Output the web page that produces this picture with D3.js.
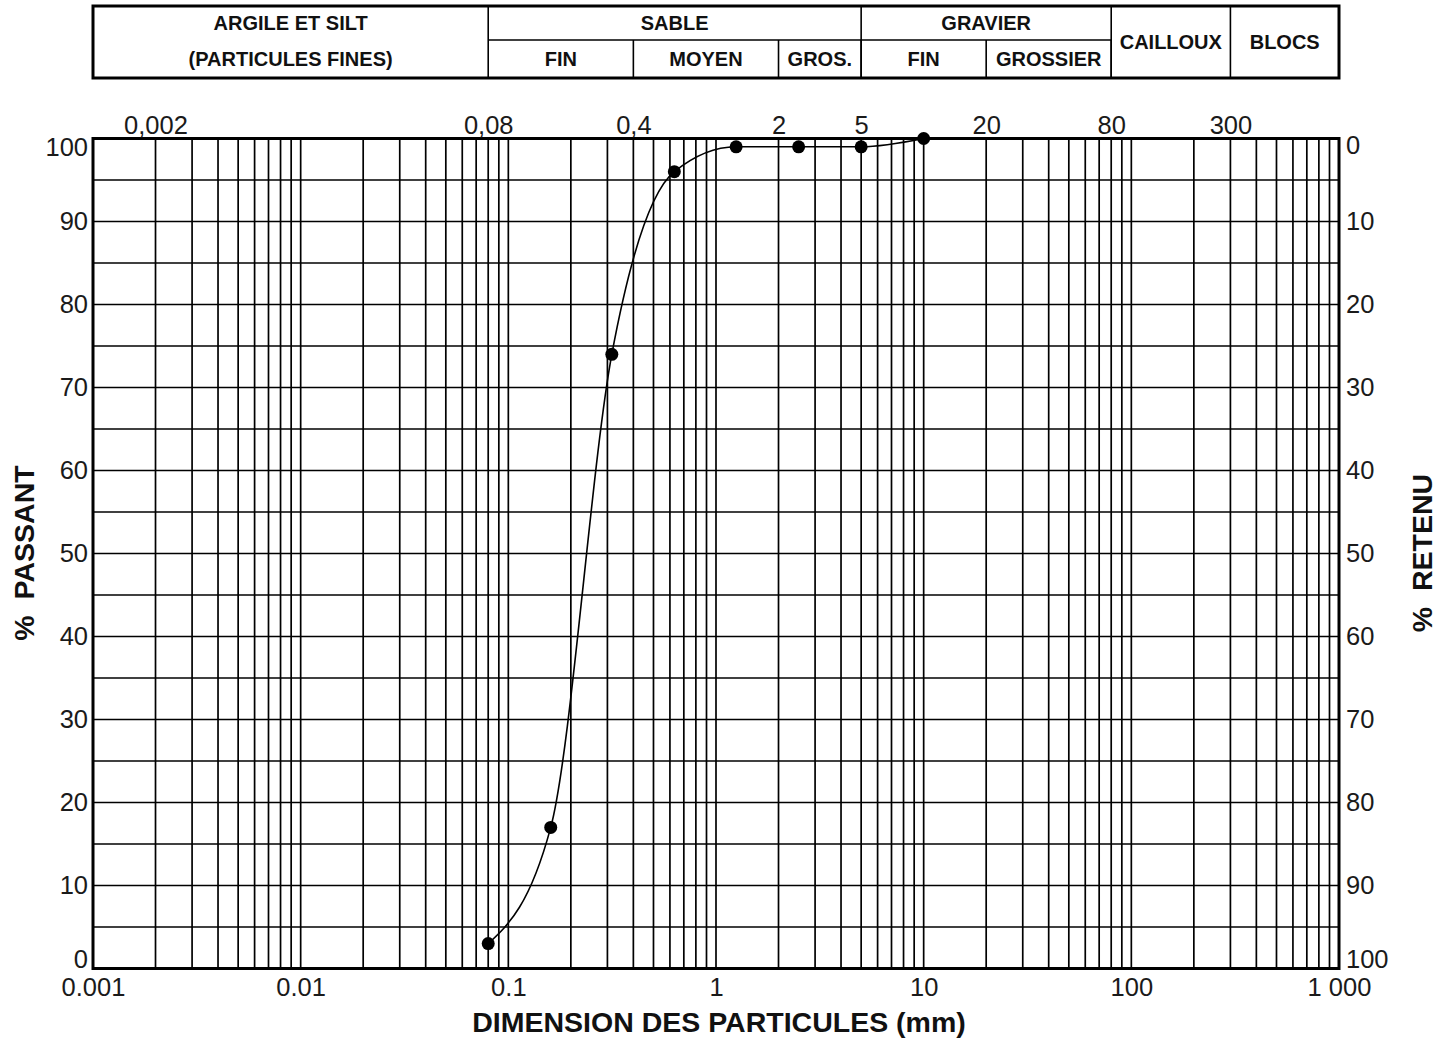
<!DOCTYPE html>
<html>
<head>
<meta charset="utf-8">
<title>Courbe granulométrique</title>
<script src="https://d3js.org/d3.v7.min.js"></script>
<style>
  body { margin: 0; background: #fff; }
  svg text { font-family: "Liberation Sans", Arial, sans-serif; fill: #1a1a1a; }
  .hdr { font-size: 20px; font-weight: bold; fill: #111; }
  .tick text { font-size: 25.5px; }
  .ttl { font-size: 28.5px; font-weight: bold; fill: #111; white-space: pre; }
</style>
</head>
<body>
<div id="chart"></div>
<script>
// sieve sizes (mm) and % passing
const sizes = [0.08, 0.16, 0.315, 0.63, 1.25, 2.5, 5, 10];
const passing = [3, 17, 74, 96, 99, 99, 99, 100];

const bottomTicks = [0.001, 0.01, 0.1, 1, 10, 100, 1000];
const bottomLabels = ["0.001", "0.01", "0.1", "1", "10", "100", "1 000"];
const topTicks = [0.002, 0.08, 0.4, 2, 5, 20, 80, 300];
const topLabels = ["0,002", "0,08", "0,4", "2", "5", "20", "80", "300"];
const pctTicks = [0, 10, 20, 30, 40, 50, 60, 70, 80, 90, 100];

// header table (classes granulométriques)
const fullCells = [
  {lines: ["ARGILE ET SILT", "(PARTICULES FINES)"], from: 0.001, to: 0.08},
  {lines: ["CAILLOUX"], from: 80, to: 300},
  {lines: ["BLOCS"], from: 300, to: 1000}
];
const groupCells = [
  {label: "SABLE", from: 0.08, to: 5},
  {label: "GRAVIER", from: 5, to: 80}
];
const subCells = [
  {label: "FIN", from: 0.08, to: 0.4},
  {label: "MOYEN", from: 0.4, to: 2},
  {label: "GROS.", from: 2, to: 5},
  {label: "FIN", from: 5, to: 20},
  {label: "GROSSIER", from: 20, to: 80}
];

const W = 1442, H = 1040;
const pLeft = 93, pRight = 1339, pTop = 138.5, pBottom = 968.5;
const hTop = 6, hMid = 40, hBot = 78;

const svg = d3.select("#chart").append("svg")
  .attr("width", W).attr("height", H);

const x = d3.scaleLog().domain([0.001, 1000]).range([pLeft, pRight]);
const y = d3.scaleLinear().domain([0, 100]).range([pBottom, pTop]);
const yr = d3.scaleLinear().domain([100, 0]).range([pBottom, pTop]);

// grid
const vLines = [];
for (let e = -3; e < 3; e++) {
  for (let n = 1; n <= 9; n++) {
    const v = n * Math.pow(10, e);
    if (v > 0.001) vLines.push(v);
  }
}
const hLines = d3.range(5, 100, 5);

svg.append("g").selectAll("line").data(vLines).join("line")
  .attr("x1", d => x(d)).attr("x2", d => x(d))
  .attr("y1", pTop).attr("y2", pBottom)
  .attr("stroke", "#000").attr("stroke-width", 1.7);
svg.append("g").selectAll("line").data(hLines).join("line")
  .attr("x1", pLeft).attr("x2", pRight)
  .attr("y1", d => y(d)).attr("y2", d => y(d))
  .attr("stroke", "#000").attr("stroke-width", 1.7);

svg.append("rect")
  .attr("x", pLeft).attr("y", pTop)
  .attr("width", pRight - pLeft).attr("height", pBottom - pTop)
  .attr("fill", "none").attr("stroke", "#000").attr("stroke-width", 3);

// axes
const axB = svg.append("g").attr("transform", `translate(0,${pBottom})`)
  .call(d3.axisBottom(x).tickValues(bottomTicks).tickSize(0).tickPadding(9)
    .tickFormat((d, i) => bottomLabels[i]));
const axT = svg.append("g").attr("transform", `translate(0,${pTop})`)
  .call(d3.axisTop(x).tickValues(topTicks).tickSize(0).tickPadding(5)
    .tickFormat((d, i) => topLabels[i]));
const axL = svg.append("g").attr("transform", `translate(${pLeft},0)`)
  .call(d3.axisLeft(y).tickValues(pctTicks).tickSize(0).tickPadding(5));
const axR = svg.append("g").attr("transform", `translate(${pRight},0)`)
  .call(d3.axisRight(yr).tickValues(pctTicks).tickSize(0).tickPadding(7));

[axB, axT, axL, axR].forEach(a => {
  a.attr("font-size", null).attr("font-family", null);
  a.select(".domain").remove();
  a.selectAll("text").attr("fill", "#1a1a1a");
});
axL.selectAll(".tick text").attr("y", d => d === 100 ? 9 : d === 0 ? -9 : 0);
axR.selectAll(".tick text").attr("y", d => d === 0 ? 7 : d === 100 ? -9 : 0);

// curve
const pts = sizes.map((s, i) => [x(s), y(passing[i])]);
svg.append("path")
  .attr("d", d3.line().curve(d3.curveMonotoneX)(pts))
  .attr("fill", "none").attr("stroke", "#000").attr("stroke-width", 1.6);
svg.append("g").selectAll("circle").data(pts).join("circle")
  .attr("cx", d => d[0]).attr("cy", d => d[1]).attr("r", 6.5)
  .attr("fill", "#000");

// header
const hdr = svg.append("g");
const vSep = (data, y1) => hdr.append("g").selectAll("line").data(data).join("line")
  .attr("x1", d => x(d.to)).attr("x2", d => x(d.to))
  .attr("y1", y1).attr("y2", hBot)
  .attr("stroke", "#000").attr("stroke-width", 1.6);
vSep(fullCells, hTop);
vSep(groupCells, hTop);
vSep(subCells, hMid);
hdr.append("line")
  .attr("x1", x(0.08)).attr("x2", x(80))
  .attr("y1", hMid).attr("y2", hMid)
  .attr("stroke", "#000").attr("stroke-width", 1.6);
hdr.append("rect")
  .attr("x", pLeft).attr("y", hTop)
  .attr("width", pRight - pLeft).attr("height", hBot - hTop)
  .attr("fill", "none").attr("stroke", "#000").attr("stroke-width", 3);

fullCells.forEach(c => {
  const cx = (x(c.from) + x(c.to)) / 2;
  c.lines.forEach((t, i) => {
    const cy = c.lines.length === 1 ? (hTop + hBot) / 2 : (i === 0 ? 23 : 59);
    hdr.append("text").attr("class", "hdr")
      .attr("x", cx).attr("y", cy + 7)
      .attr("text-anchor", "middle").text(t);
  });
});
groupCells.forEach(c => {
  hdr.append("text").attr("class", "hdr")
    .attr("x", (x(c.from) + x(c.to)) / 2).attr("y", 30)
    .attr("text-anchor", "middle").text(c.label);
});
subCells.forEach(c => {
  hdr.append("text").attr("class", "hdr")
    .attr("x", (x(c.from) + x(c.to)) / 2).attr("y", 66)
    .attr("text-anchor", "middle").text(c.label);
});

// titles
svg.append("text").attr("class", "ttl")
  .attr("x", 719).attr("y", 1032)
  .attr("text-anchor", "middle")
  .text("DIMENSION DES PARTICULES (mm)");
svg.append("text").attr("class", "ttl")
  .attr("transform", "translate(34,553) rotate(-90)")
  .attr("text-anchor", "middle")
  .text("%  PASSANT");
svg.append("text").attr("class", "ttl")
  .attr("transform", "translate(1432,553) rotate(-90)")
  .attr("text-anchor", "middle")
  .text("%  RETENU");
</script>
</body>
</html>
